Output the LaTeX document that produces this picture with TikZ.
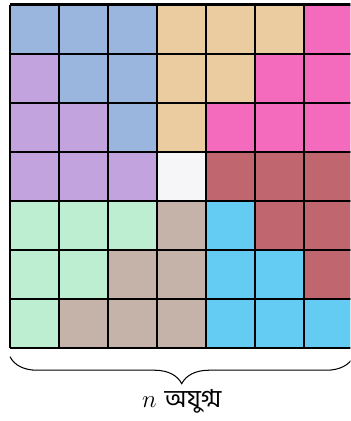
\documentclass[tikz,border=0pt]{standalone}
\usepackage{fontspec}
\newfontfamily\bengalifont[Script=Bengali]{Hind Siliguri}
\usetikzlibrary{decorations.pathreplacing}
\definecolor{cB}{HTML}{9AB5DE}
\definecolor{cU}{HTML}{C3A3DE}
\definecolor{cO}{HTML}{EBCBA0}
\definecolor{cP}{HTML}{F46ABC}
\definecolor{cW}{HTML}{F6F6F8}
\definecolor{cR}{HTML}{C0666F}
\definecolor{cG}{HTML}{BEEED1}
\definecolor{cT}{HTML}{C5B2A8}
\definecolor{cC}{HTML}{64CCF2}
\tikzset{cell/.style={draw=black,line width=1.2pt}}
\begin{document}
\begin{tikzpicture}
\useasboundingbox (-0.204,-1.49) rectangle (6.939,7.092);
\clip (-0.204,-1.49) rectangle (6.939,7.092);
\foreach \r [count=\i from 0] in {
 {B,B,B,O,O,O,P},
 {U,B,B,O,O,P,P},
 {U,U,B,O,P,P,P},
 {U,U,U,W,R,R,R},
 {G,G,G,T,C,R,R},
 {G,G,T,T,C,C,R},
 {G,T,T,T,C,C,C}}{
  \foreach \c [count=\j from 0] in \r {
    \fill[c\c] (\j,6-\i) rectangle ++(1,1);
  }
}
\draw[cell] (0,0) grid (7,7);
\coordinate (bl) at (0,-0.18);
\coordinate (br) at (7,-0.18);
\draw[decorate,decoration={brace,mirror,amplitude=0.55cm},line width=0.6pt] (bl) -- (br);
\node (lbl) at (3.5,-1.1) {\Large $n$ {\bengalifont অযুগ্ম}};
\end{tikzpicture}
\end{document}
